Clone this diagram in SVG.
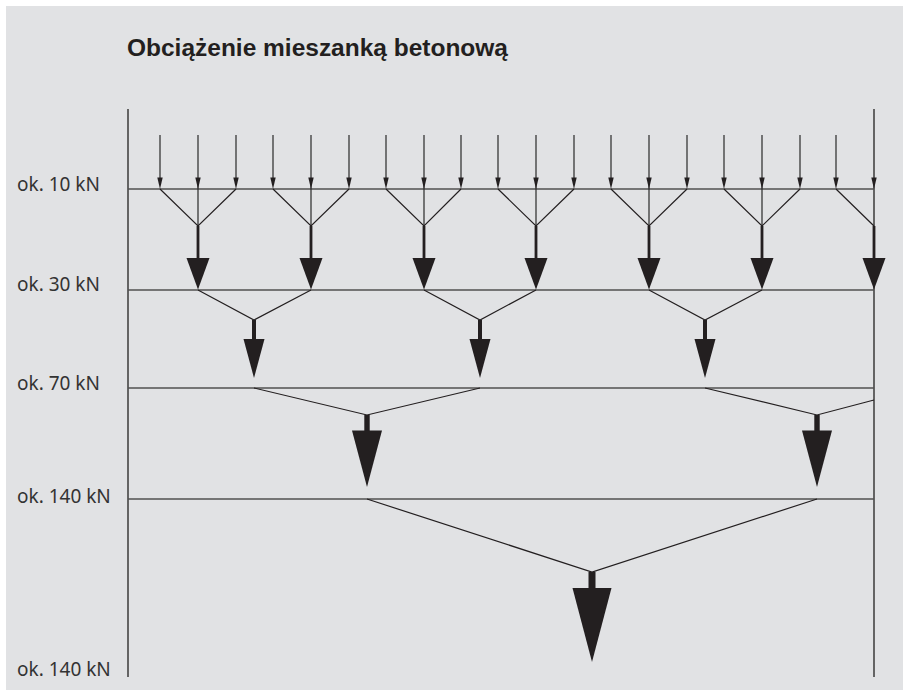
<svg xmlns="http://www.w3.org/2000/svg" width="903" height="694" viewBox="0 0 903 694">
<style>
.bg{fill:#e1e2e4}
.ax{stroke:#3a3a3a;stroke-width:1.5;fill:none}
.lv{stroke:#505050;stroke-width:1.3;fill:none}
.th{stroke:#231f20;stroke-width:1.2;fill:none}
.sh{stroke:#2a2a2a;stroke-width:1.2;fill:none}
.st{fill:#231f20}
.lbl{font-family:"Noto Sans","Liberation Sans",sans-serif;font-size:19px;fill:#333}
.ttl{font-family:"Liberation Sans",Arial,sans-serif;font-weight:bold;font-size:23.5px;fill:#231f20}
</style>
<defs>
<path id="sa" d="M-2.7,177.5 L2.7,177.5 L0,189 Z" class="st"/>
<path id="h1" d="M-11.5,258 L11.5,258 L0,289.5 Z" class="st"/>
<path id="h2" d="M-10.5,339 L10.5,339 L0,378 Z" class="st"/>
<path id="h3" d="M-15,430.5 L15,430.5 L0,487 Z" class="st"/>
<path id="h4" d="M-19.5,588 L19.5,588 L0,662 Z" class="st"/>
</defs>
<rect class="bg" x="6" y="6" width="897" height="684"/>
<g id="title"><text class="ttl" x="127" y="56" textLength="381" lengthAdjust="spacingAndGlyphs">Obciążenie mieszanką betonową</text></g>
<g id="labels">
<text class="lbl" x="17" y="191">ok. 10 kN</text>
<text class="lbl" x="17" y="291">ok. 30 kN</text>
<text class="lbl" x="17" y="390">ok. 70 kN</text>
<text class="lbl" x="17" y="503">ok. 140 kN</text>
<text class="lbl" x="17" y="676">ok. 140 kN</text>
</g>
<g id="frame">
<line class="ax" x1="128" y1="109" x2="128" y2="677"/>
<line class="ax" x1="874" y1="109" x2="874" y2="677"/>
<line class="lv" x1="128" y1="189" x2="874" y2="189"/>
<line class="lv" x1="128" y1="290" x2="874" y2="290"/>
<line class="lv" x1="128" y1="388" x2="874" y2="388"/>
<line class="lv" x1="128" y1="499" x2="874" y2="499"/>
</g>
<g id="connectors">
<g id="loads">
<path class="sh" d="M160,135V180 M198,135V226 M236,135V180 M273,135V180 M311,135V226 M349,135V180 M386,135V180 M424,135V226 M461,135V180 M498,135V180 M536,135V226 M574,135V180 M611,135V180 M649,135V226 M687,135V180 M724,135V180 M762,135V226 M800,135V180 M836,135V180"/>
<use href="#sa" x="160"/><use href="#sa" x="198"/><use href="#sa" x="236"/>
<use href="#sa" x="273"/><use href="#sa" x="311"/><use href="#sa" x="349"/>
<use href="#sa" x="386"/><use href="#sa" x="424"/><use href="#sa" x="461"/>
<use href="#sa" x="498"/><use href="#sa" x="536"/><use href="#sa" x="574"/>
<use href="#sa" x="611"/><use href="#sa" x="649"/><use href="#sa" x="687"/>
<use href="#sa" x="724"/><use href="#sa" x="762"/><use href="#sa" x="800"/>
<use href="#sa" x="836"/><use href="#sa" x="874"/>
</g>
<g id="level1">
<path class="th" d="M160,189L198,226L236,189 M273,189L311,226L349,189 M386,189L424,226L461,189 M498,189L536,226L574,189 M611,189L649,226L687,189 M724,189L762,226L800,189 M836,189L874,226"/>
<rect class="st" x="196.6" y="226" width="2.8" height="33"/><use href="#h1" x="198"/>
<rect class="st" x="309.6" y="226" width="2.8" height="33"/><use href="#h1" x="311"/>
<rect class="st" x="422.6" y="226" width="2.8" height="33"/><use href="#h1" x="424"/>
<rect class="st" x="534.6" y="226" width="2.8" height="33"/><use href="#h1" x="536"/>
<rect class="st" x="647.6" y="226" width="2.8" height="33"/><use href="#h1" x="649"/>
<rect class="st" x="760.6" y="226" width="2.8" height="33"/><use href="#h1" x="762"/>
<rect class="st" x="872.6" y="226" width="2.8" height="33"/><use href="#h1" x="874"/>
</g>
<g id="level2">
<path class="th" d="M198,290L254,320L311,290 M424,290L480,320L536,290 M649,290L705,320L762,290"/>
<rect class="st" x="252" y="320" width="4" height="20"/><use href="#h2" x="254"/>
<rect class="st" x="478" y="320" width="4" height="20"/><use href="#h2" x="480"/>
<rect class="st" x="703" y="320" width="4" height="20"/><use href="#h2" x="705"/>
</g>
<g id="level3">
<path class="th" d="M254,388L367,415L480,388 M705,388L817,415L874,400"/>
<rect class="st" x="364.3" y="415" width="5.4" height="16"/><use href="#h3" x="367"/>
<rect class="st" x="814.3" y="415" width="5.4" height="16"/><use href="#h3" x="817"/>
</g>
<g id="level4">
<path class="th" d="M367,499L592,572L817,499"/>
<rect class="st" x="588.5" y="572" width="7" height="17"/><use href="#h4" x="592"/>
</g>
</g>
</svg>
